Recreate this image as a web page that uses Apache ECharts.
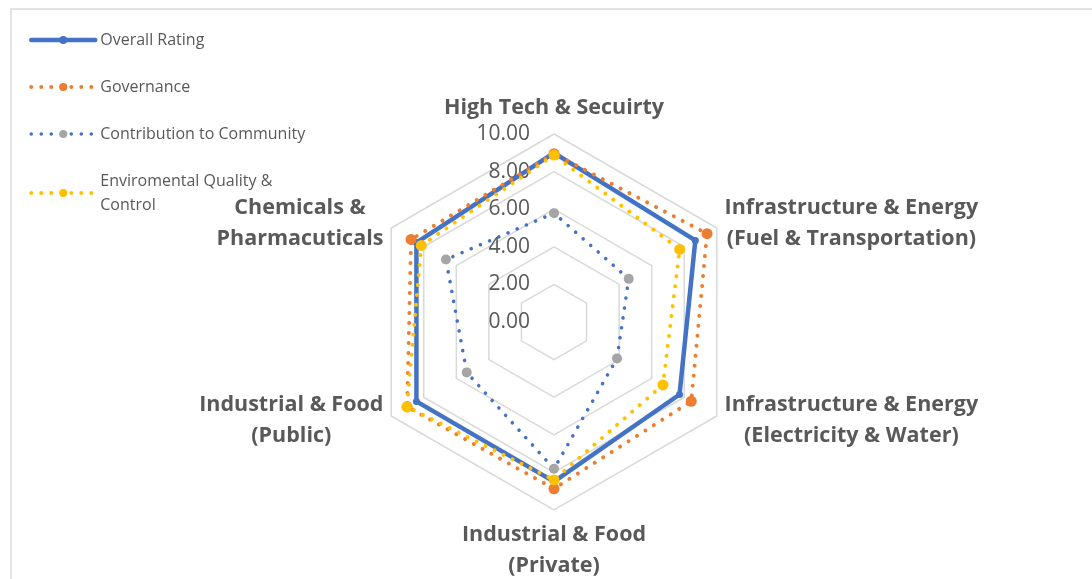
<!DOCTYPE html>
<html>
<head>
<meta charset="utf-8">
<script src="https://cdn.jsdelivr.net/npm/echarts@6/dist/echarts.min.js"></script>
<style>
  html, body { margin: 0; padding: 0; background: #ffffff; }
  #wrap { position: relative; width: 1092px; height: 579px; overflow: hidden; }
  #chart { position: absolute; left: 0; top: 0; width: 1092px; height: 579px; }
  #frame { position: absolute; left: 10px; top: 8px; width: 1200px; height: 700px;
           border-left: 2px solid #E3E3E3; border-top: 2px solid #E3E3E3; pointer-events: none; }
</style>
</head>
<body>
<div id="wrap"><div id="frame"></div><div id="chart"></div></div>
<script>
// Categories in the reference's clockwise order, starting at the top
const categories = [
  'High Tech & Secuirty',
  'Infrastructure & Energy\n(Fuel & Transportation)',
  'Infrastructure & Energy\n(Electricity & Water)',
  'Industrial & Food\n(Private)',
  'Industrial & Food\n(Public)',
  'Chemicals &\nPharmacuticals'
];
const seriesNames = ['Overall Rating', 'Governance', 'Contribution to Community', 'Enviromental Quality & Control'];
const overallRating = [9.00, 8.68, 7.71, 8.49, 8.45, 8.45];
const governance = [8.95, 9.40, 8.43, 8.87, 9.02, 8.78];
const contribution = [5.79, 4.59, 3.87, 7.81, 5.36, 6.64];
const environmental = [8.88, 7.72, 6.69, 8.40, 9.03, 8.15];
const axisMin = 0, axisMax = 10, axisSplit = 5;

// ECharts lays radar indicators counter-clockwise; reorder to draw clockwise like the reference
const order = [0, 5, 4, 3, 2, 1];
const reorder = arr => order.map(i => arr[i]);

const TEXT = '#595959';
const FONT = '"Open Sans", Lato, sans-serif';
const dots = [0.01, 10];

const styles = [
  { color: '#4472C4', marker: '#4472C4', width: 4.5, type: 'solid', size: 7 },
  { color: '#ED7D31', marker: '#ED7D31', width: 4, type: dots, size: 11 },
  { color: '#4472C4', marker: '#A5A5A5', width: 3.6, type: dots, size: 10 },
  { color: '#FFC000', marker: '#FFC000', width: 4, type: dots, size: 11 }
];
const values = [overallRating, governance, contribution, environmental];

const indicator = reorder(categories).map((name, i) => {
  const ind = { name: name, min: axisMin, max: axisMax };
  if (i === 0) {
    ind.axisLabel = {
      show: true, color: TEXT, fontSize: 21, fontFamily: FONT, margin: 24,
      formatter: v => Number(v).toFixed(2)
    };
  }
  return ind;
});

const radarSeries = values.map((vals, k) => ({
  type: 'radar',
  name: seriesNames[k],
  z: 2 + k,
  symbol: 'circle',
  symbolSize: styles[k].size,
  itemStyle: { color: styles[k].marker },
  lineStyle: { color: styles[k].color, width: styles[k].width, type: styles[k].type, cap: 'round', join: 'round' },
  data: [{ name: seriesNames[k], value: reorder(vals) }]
}));

// Empty line series give the legend its line-and-marker icons
const legendSeries = seriesNames.map((n, k) => ({
  type: 'line', name: n, data: [], symbol: 'circle',
  itemStyle: { color: styles[k].marker },
  lineStyle: { color: styles[k].color, width: styles[k].width, type: styles[k].type, cap: 'round' }
}));

const option = {
  animation: false,
  backgroundColor: 'transparent',
  grid: { show: false, left: 0, top: 0, width: 1, height: 1 },
  xAxis: { type: 'value', show: false },
  yAxis: { type: 'value', show: false },
  legend: {
    orient: 'vertical', left: 29, top: 28, padding: 0,
    itemWidth: 64, itemHeight: 10, itemGap: 23,
    textStyle: { color: TEXT, fontSize: 16, fontFamily: FONT, lineHeight: 24 },
    formatter: n => n === 'Enviromental Quality & Control' ? 'Enviromental Quality &\nControl' : n,
    data: seriesNames.map((n, k) => ({
      name: n,
      itemStyle: { color: styles[k].marker },
      lineStyle: { color: styles[k].color, width: styles[k].width, type: styles[k].type, cap: 'round' }
    }))
  },
  radar: {
    center: [554, 322],
    radius: 188,
    startAngle: 90,
    splitNumber: axisSplit,
    shape: 'polygon',
    nameGap: 9,
    axisName: {
      color: TEXT, fontSize: 21.5, fontWeight: 'bold', fontFamily: FONT, lineHeight: 31,
      formatter: name => name.split('\n').map(s => '{c|' + s + '}').join('\n'),
      rich: { c: { align: 'center', color: TEXT, fontSize: 21.5, fontWeight: 'bold', fontFamily: FONT, lineHeight: 31 } }
    },
    axisLine: { show: false },
    axisTick: { show: false },
    axisLabel: { show: false },
    splitLine: { lineStyle: { color: '#D9D9D9', width: 1.5 } },
    splitArea: { show: false },
    indicator: indicator
  },
  series: legendSeries.concat(radarSeries)
};

const chart = echarts.init(document.getElementById('chart'), null, { renderer: 'canvas' });
chart.setOption(option);
</script>
</body>
</html>
